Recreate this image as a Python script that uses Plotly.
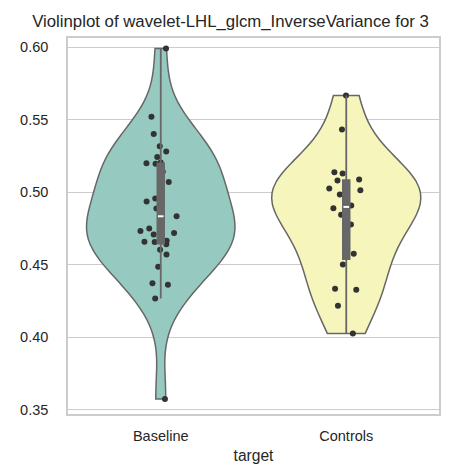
import numpy as np
import plotly.graph_objects as go

groups = ["Baseline", "Controls"]
baseline = [0.5990, 0.552, 0.540, 0.5317, 0.528, 0.5243, 0.5204, 0.5200, 0.5196, 0.514,
            0.507, 0.4986, 0.4956, 0.4935, 0.4887, 0.4834, 0.4749, 0.4733, 0.4718, 0.4709,
            0.4666, 0.4659, 0.4657, 0.4641, 0.4604, 0.4570, 0.4487, 0.4372, 0.4363, 0.4268,
            0.3576]
controls = [0.5666, 0.5432, 0.5137, 0.5128, 0.5087, 0.508, 0.5025, 0.5013, 0.4984, 0.4908,
            0.4889, 0.4845, 0.4777, 0.4659, 0.4576, 0.4501, 0.4335, 0.4328, 0.4218, 0.4027]
fills = ["#96cac1", "#f6f6bc"]
yticks = [0.35, 0.40, 0.45, 0.50, 0.55, 0.60]

font = "Liberation Sans, Arial, sans-serif"
line_gray = "#676767"

fig = go.Figure()
for name, vals, fill in zip(groups, [baseline, controls], fills):
    v = np.array(vals)
    bw = v.std(ddof=1) * len(v) ** (-0.2)  # scott, as seaborn does
    fig.add_trace(go.Violin(
        x=[name] * len(v), y=v, name=name,
        fillcolor=fill, line=dict(color=line_gray, width=1.5),
        spanmode="hard", bandwidth=bw, width=0.8, scalemode="width",
        points="all", pointpos=0, jitter=0.3,
        marker=dict(color="#333333", size=6, line=dict(width=0)),
        box_visible=False, meanline_visible=False,
        showlegend=False, hoverinfo="skip",
    ))
    # inner box: thick IQR bar + thin whiskers
    fig.add_trace(go.Box(
        x=[name] * len(v), y=v, name=name,
        width=0.036, fillcolor=line_gray, line=dict(color=line_gray, width=1.8),
        whiskerwidth=0, boxpoints="outliers",
        marker=dict(opacity=0, size=1),
        showlegend=False, hoverinfo="skip",
    ))
    fig.add_trace(go.Scatter(
        x=[name], y=[np.median(v)], mode="markers",
        marker=dict(symbol="line-ew", size=4, line=dict(color="white", width=2)),
        showlegend=False, hoverinfo="skip",
    ))

# page body adds 8px offset, so the figure is a bit smaller than the window
fig.update_layout(
    width=445, height=465,
    margin=dict(l=45, r=12, t=30, b=59),
    paper_bgcolor="white", plot_bgcolor="white",
    violinmode="overlay", boxmode="overlay",
    font=dict(family=font, size=14.5, color="#262626"),
    title=dict(text="Violinplot of wavelet-LHL_glcm_InverseVariance for 3",
               x=0.5, xanchor="center", y=0.972, yanchor="middle",
               font=dict(size=16.8, color="#262626")),
)
fig.update_xaxes(
    categoryorder="array", categoryarray=groups, range=[-0.5, 1.5],
    showgrid=False, zeroline=False, automargin=False,
    showline=True, mirror=True, linecolor="#cccccc", linewidth=1.5,
    ticks="", ticklabelstandoff=8,
    title=dict(text="target", font=dict(size=15.6), standoff=7),
)
fig.update_yaxes(
    range=[0.3472, 0.6062], tickvals=yticks, tickformat=".2f",
    showgrid=True, gridcolor="#cccccc", gridwidth=1, zeroline=False,
    showline=True, mirror=True, linecolor="#cccccc", linewidth=1.5,
    ticks="", ticklabelstandoff=15,
)

fig.write_html("out.html")
